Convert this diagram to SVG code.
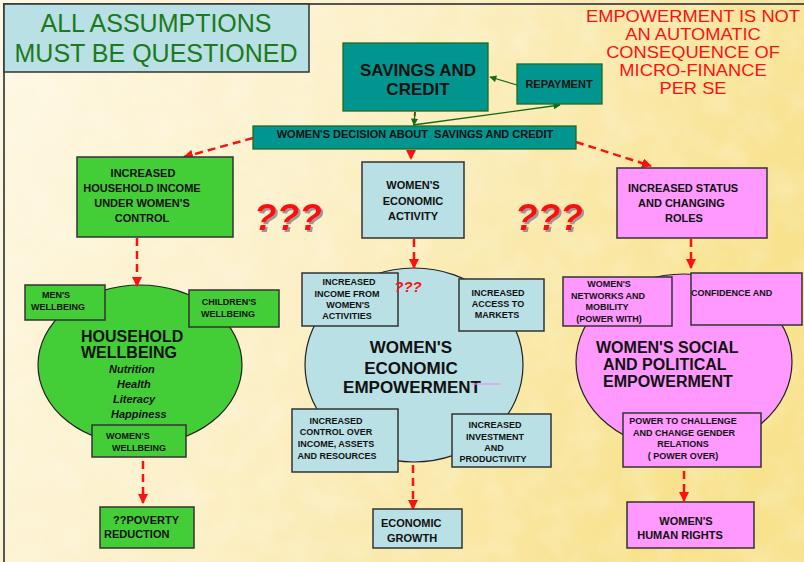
<svg xmlns="http://www.w3.org/2000/svg" width="804" height="562" viewBox="0 0 804 562">
  <defs>
    <linearGradient id="bg" x1="0" y1="0" x2="1" y2="0.3">
      <stop offset="0" stop-color="#FEF8E4"/>
      <stop offset="0.45" stop-color="#FCF0C8"/>
      <stop offset="1" stop-color="#F8E28E"/>
    </linearGradient>
    <filter id="paper" x="0" y="0" width="100%" height="100%">
      <feTurbulence type="fractalNoise" baseFrequency="0.035" numOctaves="3" seed="4"/>
      <feColorMatrix type="matrix" values="0 0 0 0 1  0 0 0 0 1  0 0 0 0 1  0 0 0 -1.2 0.75"/>
    </filter>
    <filter id="shade" x="-10%" y="-10%" width="130%" height="130%">
      <feOffset in="SourceAlpha" dx="2" dy="2" result="o"/>
      <feFlood flood-color="#999999"/>
      <feComposite operator="in" in2="o"/>
      <feMerge><feMergeNode/><feMergeNode in="SourceGraphic"/></feMerge>
    </filter>
    <marker id="redHead" viewBox="0 0 10 10" refX="9" refY="5" markerWidth="4" markerHeight="4" orient="auto">
      <path d="M0,0 L10,5 L0,10 z" fill="#FF1010"/>
    </marker>
    <marker id="greenHead" viewBox="0 0 10 10" refX="9" refY="5" markerWidth="9" markerHeight="7" orient="auto" markerUnits="userSpaceOnUse">
      <path d="M0,0 L10,5 L0,10 z" fill="#136B13"/>
    </marker>
    <style>
      text { font-family: "Liberation Sans", Arial, sans-serif; }
      .b { font-weight: bold; fill: #111; }
      .s9 { font-size: 9px; }
      .s11 { font-size: 11px; }
      .s16 { font-size: 16px; }
      .s17 { font-size: 17px; }
      .c { text-anchor: middle; }
      .box { stroke: #333; stroke-width: 1.5; }
      .teal { fill: #00958F; stroke: #1E6B1E; stroke-width: 1.3; }
      .blue { fill: #B9E0E4; }
      .green { fill: #43CD37; }
      .pink { fill: #FF99FF; }
      .oval { stroke: #222; stroke-width: 1.2; }
      .dash { fill: none; stroke: #FF1010; stroke-width: 2.5; stroke-dasharray: 8 5; marker-end: url(#redHead); }
      .gline { fill: none; stroke: #136B13; stroke-width: 1.3; marker-end: url(#greenHead); }
      .q { font-weight: bold; font-style: italic; fill: #FF1010; }
      .red { fill: #FF1010; font-size: 16.2px; text-anchor: middle; }
    </style>
  </defs>

  <!-- background paper -->
  <rect x="0" y="0" width="804" height="562" fill="url(#bg)"/>
  <rect x="0" y="0" width="804" height="562" filter="url(#paper)" opacity="0.35"/>

  <!-- slide frame -->
  <path d="M4,562 V4 H804" fill="none" stroke="#555" stroke-width="2"/>

  <!-- title -->
  <g id="title">
    <rect x="4" y="4" width="305" height="68" fill="#B9E0E4" stroke="#333" stroke-width="1.5"/>
    <text x="156" y="32" class="c" font-size="25" fill="#1B7A1B">ALL ASSUMPTIONS</text>
    <text x="156" y="62" class="c" font-size="25" fill="#1B7A1B">MUST BE QUESTIONED</text>
  </g>

  <!-- note, stretched horizontally to the slide's wide lettering -->
  <g id="note" transform="translate(693 0) scale(1.13 1)">
    <text x="0" y="22.5" class="red">EMPOWERMENT IS NOT</text>
    <text x="0" y="40.5" class="red">AN AUTOMATIC</text>
    <text x="0" y="58.5" class="red">CONSEQUENCE OF</text>
    <text x="0" y="76.5" class="red">MICRO-FINANCE</text>
    <text x="0" y="94.5" class="red">PER SE</text>
  </g>

  <!-- large ovals -->
  <g id="household-wellbeing">
    <ellipse cx="140" cy="365" rx="102" ry="80" class="green oval"/>
    <text x="81" y="342" class="b s16">HOUSEHOLD</text>
    <text x="81" y="358" class="b s16">WELLBEING</text>
    <text x="109" y="373" class="b s11" font-style="italic">Nutrition</text>
    <text x="117" y="388" class="b s11" font-style="italic">Health</text>
    <text x="113" y="403" class="b s11" font-style="italic">Literacy</text>
    <text x="111" y="418" class="b s11" font-style="italic">Happiness</text>
  </g>

  <g id="economic-empowerment">
    <ellipse cx="414" cy="365" rx="109" ry="97" class="blue oval"/>
    <text x="411" y="353" class="b s17 c">WOMEN'S</text>
    <text x="411" y="374" class="b s17 c">ECONOMIC</text>
    <text x="412" y="393" class="b s17 c">EMPOWERMENT</text>
    <line x1="472" y1="384" x2="500" y2="384" stroke="#F090F0" stroke-width="1.2"/>
  </g>

  <g id="social-political-empowerment">
    <ellipse cx="684" cy="362" rx="108" ry="88" class="pink oval"/>
    <text x="596" y="353" class="b s16">WOMEN'S SOCIAL</text>
    <text x="603" y="370" class="b s16">AND POLITICAL</text>
    <text x="603" y="387" class="b s16">EMPOWERMENT</text>
  </g>

  <!-- connectors -->
  <g id="connectors">
    <line x1="517" y1="85" x2="490" y2="77" class="gline"/>
    <line x1="413" y1="125" x2="560" y2="105" class="gline"/>
    <line x1="415" y1="112" x2="414" y2="124" stroke="#FF1010" stroke-width="2" stroke-dasharray="4 3"/>
    <line x1="415" y1="112" x2="414" y2="125" class="gline"/>
    <line x1="253" y1="138" x2="184" y2="157" class="dash"/>
    <line x1="411" y1="150" x2="411" y2="159" class="dash"/>
    <line x1="576" y1="142" x2="651" y2="166" class="dash"/>
    <line x1="137" y1="238" x2="137" y2="286" class="dash"/>
    <line x1="414" y1="239" x2="414" y2="268" class="dash"/>
    <line x1="691" y1="239" x2="691" y2="268" class="dash"/>
    <line x1="143" y1="461" x2="143" y2="503" class="dash"/>
    <line x1="413" y1="465" x2="413" y2="509" class="dash"/>
    <line x1="684" y1="471" x2="684" y2="501" class="dash"/>
  </g>

  <!-- top row -->
  <g id="savings-credit">
    <rect x="343" y="43" width="145" height="68" class="teal"/>
    <text x="418" y="76" class="b s17 c">SAVINGS AND</text>
    <text x="418" y="95" class="b s17 c">CREDIT</text>
  </g>

  <g id="repayment">
    <rect x="517" y="64" width="85" height="40" class="teal"/>
    <text x="559" y="88" class="b s11 c">REPAYMENT</text>
  </g>

  <g id="decision">
    <rect x="253" y="126" width="323" height="23" class="teal" stroke="#333"/>
    <text x="415" y="138" class="b c" font-size="11" xml:space="preserve">WOMEN'S DECISION ABOUT  SAVINGS AND CREDIT</text>
  </g>

  <!-- second row -->
  <g id="household-income">
    <rect x="77" y="157" width="156" height="80" class="green box"/>
    <text x="143" y="177" class="b s11 c">INCREASED</text>
    <text x="142" y="192" class="b s11 c">HOUSEHOLD INCOME</text>
    <text x="142" y="207" class="b s11 c">UNDER WOMEN'S</text>
    <text x="142" y="222" class="b s11 c">CONTROL</text>
  </g>

  <g id="economic-activity">
    <rect x="362" y="162" width="102" height="76" class="blue box"/>
    <text x="413" y="189" class="b s11 c">WOMEN'S</text>
    <text x="413" y="205" class="b s11 c">ECONOMIC</text>
    <text x="413" y="220" class="b s11 c">ACTIVITY</text>
  </g>

  <g id="status-roles">
    <rect x="617" y="168" width="150" height="70" class="pink box"/>
    <text x="628" y="192" class="b s11">INCREASED STATUS</text>
    <text x="638" y="207" class="b s11">AND CHANGING</text>
    <text x="665" y="222" class="b s11">ROLES</text>
  </g>

  <g id="doubt-marks">
    <text x="288" y="230" class="q c" font-size="37" filter="url(#shade)">???</text>
    <text x="549" y="230" class="q c" font-size="37" filter="url(#shade)">???</text>
  </g>

  <!-- satellite boxes: household -->
  <g id="mens-wellbeing">
    <rect x="25" y="285" width="80" height="35" class="green box"/>
    <text x="56" y="298" class="b s9 c">MEN'S</text>
    <text x="58" y="310" class="b s9 c">WELLBEING</text>
  </g>

  <g id="childrens-wellbeing">
    <rect x="189" y="290" width="90" height="37" class="green box"/>
    <text x="229" y="305" class="b s9 c">CHILDREN'S</text>
    <text x="228" y="317" class="b s9 c">WELLBEING</text>
  </g>

  <g id="womens-wellbeing">
    <rect x="92" y="425" width="94" height="32" class="green box"/>
    <text x="106" y="439" class="b s9">WOMEN'S</text>
    <text x="112" y="451" class="b s9">WELLBEING</text>
  </g>

  <g id="poverty-reduction">
    <rect x="100" y="507" width="94" height="41" class="green box"/>
    <text x="113" y="524" class="b s11">??POVERTY</text>
    <text x="104" y="538" class="b s11">REDUCTION</text>
  </g>

  <!-- satellite boxes: economic -->
  <g id="income-activities">
    <rect x="302" y="273" width="96" height="53" class="blue box"/>
    <text x="349" y="285" class="b s9 c">INCREASED</text>
    <text x="347" y="297" class="b s9 c">INCOME FROM</text>
    <text x="348" y="308" class="b s9 c">WOMEN'S</text>
    <text x="347" y="319" class="b s9 c">ACTIVITIES</text>
  </g>

  <g id="oval-doubt">
    <text x="408" y="292" class="q c" font-size="15">???</text>
  </g>

  <g id="access-markets">
    <rect x="459" y="279" width="85" height="52" class="blue box"/>
    <text x="498" y="296" class="b s9 c">INCREASED</text>
    <text x="498" y="307" class="b s9 c">ACCESS TO</text>
    <text x="497" y="318" class="b s9 c">MARKETS</text>
  </g>

  <g id="control-resources">
    <rect x="292" y="409" width="106" height="63" class="blue box"/>
    <text x="336" y="424" class="b s9 c">INCREASED</text>
    <text x="336" y="435" class="b s9 c">CONTROL OVER</text>
    <text x="336" y="447" class="b s9 c">INCOME, ASSETS</text>
    <text x="337" y="459" class="b s9 c">AND RESOURCES</text>
  </g>

  <g id="investment-productivity">
    <rect x="452" y="414" width="99" height="53" class="blue box"/>
    <text x="495" y="428" class="b s9 c">INCREASED</text>
    <text x="495" y="440" class="b s9 c">INVESTMENT</text>
    <text x="494" y="451" class="b s9 c">AND</text>
    <text x="493" y="462" class="b s9 c">PRODUCTIVITY</text>
  </g>

  <g id="economic-growth">
    <rect x="373" y="509" width="89" height="39" class="blue box"/>
    <text x="381" y="527" class="b s11">ECONOMIC</text>
    <text x="387" y="542" class="b s11">GROWTH</text>
  </g>

  <!-- satellite boxes: social and political -->
  <g id="networks-mobility">
    <rect x="563" y="277" width="109" height="49" class="pink box"/>
    <text x="609" y="287" class="b s9 c">WOMEN'S</text>
    <text x="608" y="299" class="b s9 c">NETWORKS AND</text>
    <text x="607" y="310" class="b s9 c">MOBILITY</text>
    <text x="609" y="322" class="b s9 c">(POWER WITH)</text>
  </g>

  <g id="confidence">
    <rect x="691" y="273" width="111" height="52" class="pink box"/>
    <text x="691" y="296" class="b s9">CONFIDENCE AND</text>
  </g>

  <g id="power-over">
    <rect x="623" y="413" width="138" height="54" class="pink box"/>
    <text x="683" y="424" class="b s9 c">POWER TO CHALLENGE</text>
    <text x="684" y="436" class="b s9 c">AND CHANGE GENDER</text>
    <text x="683" y="447" class="b s9 c">RELATIONS</text>
    <text x="683" y="459" class="b s9 c">( POWER OVER)</text>
  </g>

  <g id="human-rights">
    <rect x="627" y="502" width="127" height="46" class="pink box"/>
    <text x="686" y="525" class="b s11 c">WOMEN'S</text>
    <text x="680" y="539" class="b s11 c">HUMAN RIGHTS</text>
  </g>
</svg>
